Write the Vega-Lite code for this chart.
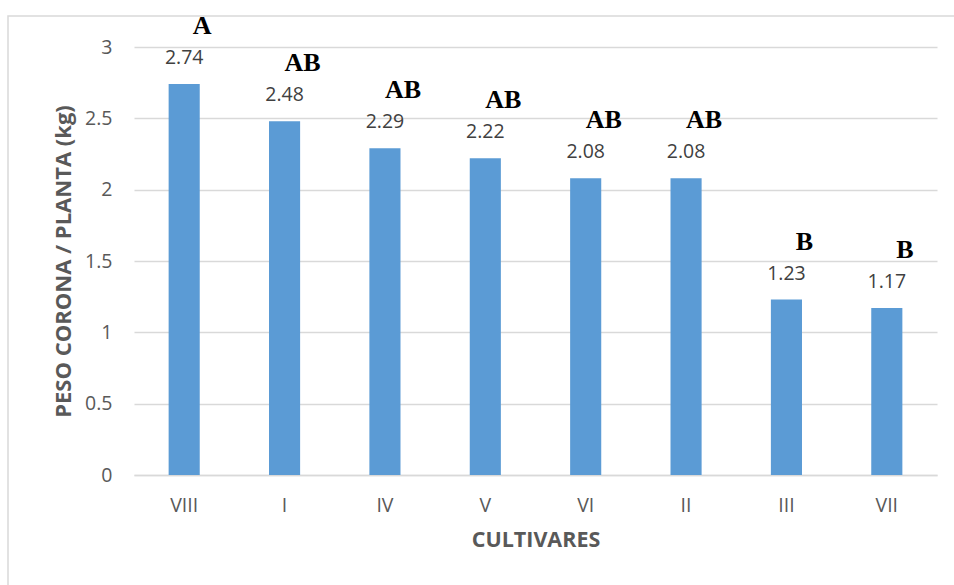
{
  "$schema": "https://vega.github.io/schema/vega-lite/v6.json",
  "width": 803,
  "height": 428,
  "autosize": {"type": "none"},
  "padding": {"left": 134, "top": 47, "right": 17, "bottom": 110},
  "background": "white",
  "config": {
    "view": {"stroke": null},
    "font": "Open Sans"
  },
  "data": {
    "values": [
      {"cultivar": "VIII", "peso": 2.74, "letra": "A"},
      {"cultivar": "I", "peso": 2.48, "letra": "AB"},
      {"cultivar": "IV", "peso": 2.29, "letra": "AB"},
      {"cultivar": "V", "peso": 2.22, "letra": "AB"},
      {"cultivar": "VI", "peso": 2.08, "letra": "AB"},
      {"cultivar": "II", "peso": 2.08, "letra": "AB"},
      {"cultivar": "III", "peso": 1.23, "letra": "B"},
      {"cultivar": "VII", "peso": 1.17, "letra": "B"}
    ]
  },
  "encoding": {
    "x": {
      "field": "cultivar",
      "type": "nominal",
      "sort": null,
      "scale": {"paddingInner": 0.69, "paddingOuter": 0.345},
      "axis": {
        "title": "CULTIVARES",
        "titleFont": "Open Sans",
        "titleFontSize": 21.5,
        "titleFontWeight": "bold",
        "titleColor": "#595959",
        "titlePadding": 15,
        "labelAngle": 0,
        "labelFont": "Open Sans",
        "labelFontSize": 19.5,
        "labelColor": "#595959",
        "labelPadding": 21,
        "ticks": false,
        "domainColor": "#d9d9d9",
        "domainWidth": 1.5,
        "grid": false
      }
    },
    "y": {
      "field": "peso",
      "type": "quantitative",
      "scale": {"domain": [0, 3], "nice": false},
      "axis": {
        "title": "PESO CORONA / PLANTA (kg)",
        "titleFont": "Open Sans",
        "titleFontSize": 22,
        "titleFontWeight": "bold",
        "titleColor": "#595959",
        "titlePadding": 9,
        "values": [0, 0.5, 1, 1.5, 2, 2.5, 3],
        "format": "~g",
        "labelFont": "Open Sans",
        "labelFontSize": 19.5,
        "labelColor": "#595959",
        "labelPadding": 22,
        "ticks": false,
        "domain": false,
        "grid": true,
        "gridColor": "#d9d9d9",
        "gridWidth": 1.5
      }
    }
  },
  "layer": [
    {
      "mark": {"type": "bar", "color": "#5b9bd5"}
    },
    {
      "mark": {
        "type": "text",
        "font": "Open Sans",
        "fontSize": 19.5,
        "color": "#404040",
        "baseline": "middle",
        "dy": -26
      },
      "encoding": {
        "text": {"field": "peso", "type": "quantitative", "format": ".2f"}
      }
    },
    {
      "mark": {
        "type": "text",
        "font": "Liberation Serif",
        "fontSize": 26,
        "fontWeight": "bold",
        "color": "#000000",
        "baseline": "middle",
        "dx": 18,
        "dy": -58
      },
      "encoding": {
        "text": {"field": "letra", "type": "nominal"}
      }
    },
    {
      "data": {"values": [{"frame": "chart"}]},
      "mark": {
        "type": "rect",
        "fill": null,
        "stroke": "#d9d9d9",
        "strokeWidth": 1.5
      },
      "encoding": {
        "x": {"value": -126},
        "y": {"value": -31},
        "x2": {"value": 840},
        "y2": {"value": 560}
      }
    }
  ]
}
